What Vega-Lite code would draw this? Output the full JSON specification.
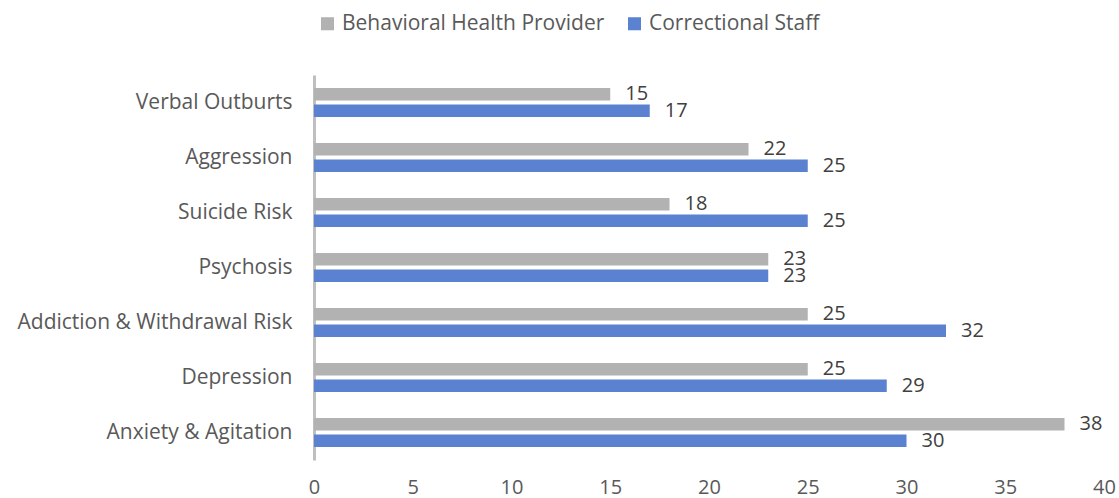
{
  "$schema": "https://vega.github.io/schema/vega-lite/v6.json",
  "autosize": {"type": "none"},
  "padding": {"left": 314, "top": 75, "right": 15, "bottom": 38},
  "width": 790,
  "height": 385,
  "background": "white",
  "config": {
    "font": "Open Sans",
    "view": {"stroke": null}
  },
  "data": {
    "values": [
      {"item": "Verbal Outburts", "group": "Behavioral Health Provider", "count": 15},
      {"item": "Verbal Outburts", "group": "Correctional Staff", "count": 17},
      {"item": "Aggression", "group": "Behavioral Health Provider", "count": 22},
      {"item": "Aggression", "group": "Correctional Staff", "count": 25},
      {"item": "Suicide Risk", "group": "Behavioral Health Provider", "count": 18},
      {"item": "Suicide Risk", "group": "Correctional Staff", "count": 25},
      {"item": "Psychosis", "group": "Behavioral Health Provider", "count": 23},
      {"item": "Psychosis", "group": "Correctional Staff", "count": 23},
      {"item": "Addiction & Withdrawal Risk", "group": "Behavioral Health Provider", "count": 25},
      {"item": "Addiction & Withdrawal Risk", "group": "Correctional Staff", "count": 32},
      {"item": "Depression", "group": "Behavioral Health Provider", "count": 25},
      {"item": "Depression", "group": "Correctional Staff", "count": 29},
      {"item": "Anxiety & Agitation", "group": "Behavioral Health Provider", "count": 38},
      {"item": "Anxiety & Agitation", "group": "Correctional Staff", "count": 30}
    ]
  },
  "encoding": {
    "y": {
      "field": "item",
      "type": "nominal",
      "sort": null,
      "title": null,
      "scale": {"paddingInner": 0.47, "paddingOuter": 0.235},
      "axis": {
        "ticks": false,
        "domainColor": "#BFBFBF",
        "domainWidth": 3,
        "labelFontSize": 21,
        "labelColor": "#595959",
        "labelPadding": 22,
        "labelLimit": 0,
        "labelFont": "Open Sans"
      }
    },
    "yOffset": {
      "field": "group",
      "type": "nominal",
      "sort": ["Behavioral Health Provider", "Correctional Staff"],
      "scale": {"paddingInner": 0.24, "paddingOuter": 0}
    },
    "x": {
      "field": "count",
      "type": "quantitative",
      "title": null,
      "scale": {"domain": [0, 40], "nice": false},
      "axis": {
        "values": [0, 5, 10, 15, 20, 25, 30, 35, 40],
        "grid": false,
        "domain": false,
        "ticks": false,
        "labelFontSize": 20,
        "labelColor": "#595959",
        "labelBaseline": "alphabetic",
        "labelPadding": 33,
        "labelFlush": false,
        "labelFont": "Open Sans"
      }
    }
  },
  "layer": [
    {
      "mark": {"type": "bar"},
      "encoding": {
        "color": {
          "field": "group",
          "type": "nominal",
          "sort": ["Behavioral Health Provider", "Correctional Staff"],
          "scale": {
            "domain": ["Behavioral Health Provider", "Correctional Staff"],
            "range": ["#B2B2B2", "#5B82D0"]
          },
          "legend": {
            "title": null,
            "orient": "none",
            "direction": "horizontal",
            "legendX": 3,
            "legendY": -62,
            "symbolType": "square",
            "symbolSize": 170,
            "symbolStrokeWidth": 0,
            "labelFontSize": 21,
            "labelColor": "#595959",
            "labelFont": "Open Sans",
            "labelLimit": 0,
            "labelOffset": 4,
            "columnPadding": 19
          }
        }
      }
    },
    {
      "mark": {
        "type": "text",
        "align": "left",
        "baseline": "middle",
        "dx": 15,
        "fontSize": 20,
        "color": "#404040",
        "font": "Open Sans"
      },
      "encoding": {
        "text": {"field": "count", "type": "quantitative"}
      }
    }
  ]
}
